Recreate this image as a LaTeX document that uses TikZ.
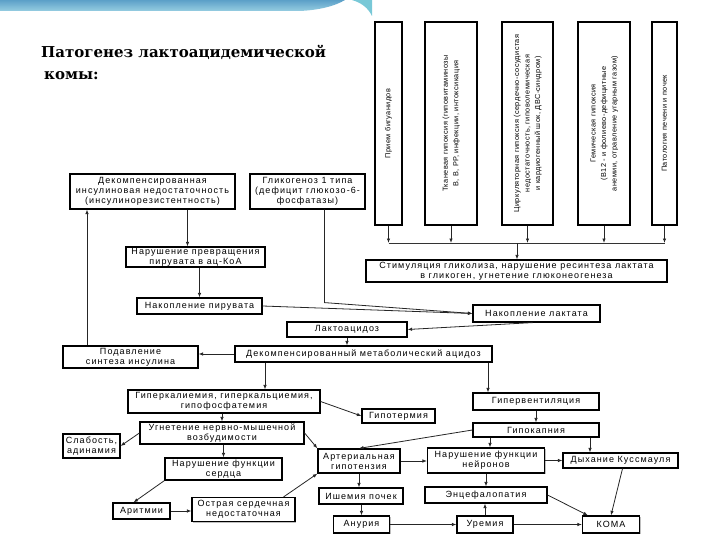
\documentclass[tikz,border=0pt]{standalone}
\usepackage{fontspec}
\usepackage{graphicx}
\setmainfont{Liberation Sans}
\newfontfamily\boxfont[LetterSpace=12]{Liberation Sans}
\newfontfamily\vfont[LetterSpace=6]{Liberation Sans}
\newfontfamily\titlefont{DejaVu Serif}
\usetikzlibrary{arrows.meta}
\usetikzlibrary{shadows}
\definecolor{bartop}{RGB}{92,160,200}
\definecolor{barbot}{RGB}{150,205,225}
\definecolor{barteal}{RGB}{120,200,215}

\begin{document}
\begin{tikzpicture}[x=1pt, y=-1pt,
    box/.style={draw, line width=1.2pt, fill=white, align=center, inner sep=1pt,
        font=\boxfont\fontsize{9}{10}\selectfont,
        drop shadow={shadow xshift=1.2pt, shadow yshift=-1.2pt, opacity=0.5}},
    vbox/.style={box, minimum height=203, font=\vfont\fontsize{7.3}{10.5}\selectfont},
    link/.style={line width=0.8pt, draw=black!85, -{Latex[length=4.5pt,width=3.5pt]}}
]
\useasboundingbox (0,0) rectangle (720,540);

% Slide band
\shade[top color=bartop, bottom color=barbot] (0,0) -- (345,0) .. controls (335,6) and (320,10) .. (300,11) -- (0,11) -- cycle;
\fill[barteal] (352,0) -- (372,0) -- (372,16) .. controls (368,8) and (362,3) .. (352,0) -- cycle;

% Title
\node[anchor=north west, align=left, inner sep=0pt, font=\titlefont\bfseries\fontsize{15}{22}\selectfont] (title) at (41,45)
    {Патогенез лактоацидемической\\\hspace{3pt}комы:};

% Causes
\node[vbox, minimum width=27] (t1) at (388.5,123.5) {\rotatebox{90}{Прием бигуанидов}};
\node[vbox, minimum width=52] (t2) at (451,123.5) {\rotatebox{90}{\begin{tabular}{@{}c@{}}Тканевая гипоксия (гиповитаминозы\\В, В, РР, инфекции, интоксикация\end{tabular}}};
\node[vbox, minimum width=51] (t3) at (527.5,123.5) {\rotatebox{90}{\begin{tabular}{@{}c@{}}Циркуляторная гипоксия (сердечно-сосудистая\\недостаточность, гиповолемическая\\и кардиогенный шок, ДВС-синдром)\end{tabular}}};
\node[vbox, minimum width=52] (t4) at (604,123.5) {\rotatebox{90}{\begin{tabular}{@{}c@{}}Гемическая гипоксия\\(В12 - и фолиево-дефицитные\\анемии, отравление угарным газом)\end{tabular}}};
\node[vbox, minimum width=25] (t5) at (664.5,123.5) {\rotatebox{90}{Патология печени и почек}};

% Define boxes
\node[box, minimum width=165, minimum height=35] (dins) at (152.5,191.5) {Декомпенсированная\\инсулиновая недостаточность\\(инсулинорезистентность)};
\node[box, minimum width=115, minimum height=35] (glyc) at (307.5,191.5) {Гликогеноз 1 типа\\(дефицит глюкозо-6-\\фосфатазы)};
\node[box, minimum width=139, minimum height=20] (npir) at (195.5,257) {Нарушение превращения\\пирувата в ац-КоА};
\node[box, minimum width=301, minimum height=22] (stim) at (516.5,271) {Стимуляция гликолиза, нарушение ресинтеза лактата\\в гликоген, угнетение глюконеогенеза};
\node[box, minimum width=125, minimum height=16] (pir) at (199.5,306) {Накопление пирувата};
\node[box, minimum width=127, minimum height=17] (lact) at (536.5,313.5) {Накопление лактата};
\node[box, minimum width=120, minimum height=15] (lacto) at (347,329.5) {Лактоацидоз};
\node[box, minimum width=257, minimum height=16] (acid) at (363.5,354) {Декомпенсированный метаболический ацидоз};
\node[box, minimum width=135, minimum height=22] (podav) at (130.5,357) {Подавление\\синтеза инсулина};
\node[box, minimum width=192, minimum height=23] (hyperk) at (224,401.5) {Гиперкалиемия, гиперкальциемия,\\гипофосфатемия};
\node[box, minimum width=73, minimum height=14] (hypoth) at (398.5,416) {Гипотермия};
\node[box, minimum width=164, minimum height=22] (ugn) at (222,433) {Угнетение нервно-мышечной\\возбудимости};
\node[box, minimum width=57, minimum height=24] (slab) at (91.5,446) {Слабость,\\адинамия};
\node[box, minimum width=117, minimum height=22] (nfs) at (223.5,469) {Нарушение функции\\сердца};
\node[box, minimum width=57, minimum height=16] (arit) at (141.5,511) {Аритмии};
\node[box, minimum width=103, minimum height=24] (ostr) at (243.5,509.5) {Острая сердечная\\недостаточная};
\node[box, minimum width=82, minimum height=24] (art) at (359,461) {Артериальная\\гипотензия};
\node[box, minimum width=117, minimum height=25] (neur) at (486,460.5) {Нарушение функции\\нейронов};
\node[box, minimum width=115, minimum height=15] (kuss) at (620.5,460.5) {Дыхание Куссмауля};
\node[box, minimum width=126, minimum height=17] (hypv) at (536,401.5) {Гипервентиляция};
\node[box, minimum width=126, minimum height=14] (hypok) at (536,430) {Гипокапния};
\node[box, minimum width=84, minimum height=16] (ishem) at (361,496) {Ишемия почек};
\node[box, minimum width=122, minimum height=16] (enc) at (486,495) {Энцефалопатия};
\node[box, minimum width=56, minimum height=17] (anur) at (361.5,524.5) {Анурия};
\node[box, minimum width=56, minimum height=17] (urem) at (485,524.5) {Уремия};
\node[box, minimum width=57, minimum height=17] (koma) at (611,524.5) {КОМА};

% Define arrows
\coordinate (bus) at (517,243);
\draw[line width=1pt, black!80] (t1.south |- bus) -- (t5.south |- bus);
\foreach \t in {t1,t2,t3,t4,t5}
    \draw[link] (\t.south) -- (\t.south |- bus);
\draw[link] (bus) -- (bus |- stim.north);

\draw[link] ([xshift=-8pt]npir.north |- dins.south) -- ([xshift=-8pt]npir.north);
\draw[link] (npir.south -| pir.north) -- (pir.north);
\draw[link] ([xshift=17pt]glyc.south) -- ++(0,93) -- (lact.west);
\draw[link] (pir.east) -- (lact.west);
\draw[link] ([xshift=-4pt]lact.south) -- (lacto.east);
\draw[link] (lacto.south) -- (lacto.south |- acid.north);
\draw[link] (acid.west) -- (acid.west -| podav.east);
\draw[link] ([xshift=-43.5pt]podav.north) -- ([xshift=-43.5pt]podav.north |- dins.south);
\draw[link] ([xshift=-98.5pt]acid.south) -- ([xshift=-98.5pt]acid.south |- hyperk.north);
\draw[link] ([xshift=124.5pt]acid.south) -- ([xshift=124.5pt]acid.south |- hypv.north);

\draw[link] (hyperk.east) -- (hypoth.west);
\draw[link] (hyperk.south -| ugn.north) -- (ugn.north);
\draw[link] (ugn.west) -- (slab.east);
\draw[link] (ugn.south -| nfs.north) -- (nfs.north);
\draw[link] (ugn.east) -- (art.north west);
\draw[link] (nfs.south west) -- ([xshift=-8pt]arit.north);
\draw[link] (arit.east) -- (arit.east -| ostr.west);
\draw[link] ([xshift=-12pt]ostr.north east) -- (art.south west);

\draw[link] (hypv.south) -- (hypok.north);
\draw[link] (hypok.west) -- (art.north);
\draw[link] ([xshift=-46pt]hypok.south) -- ([xshift=-46pt]hypok.south |- neur.north);
\draw[link] ([xshift=54pt]hypok.south) -- ([xshift=54pt]hypok.south |- kuss.north);
\draw[link] (art.east) -- (art.east -| neur.west);
\draw[link] (neur.east) -- (neur.east -| kuss.west);

\draw[link] (art.south) -- (art.south |- ishem.north);
\draw[link] (ishem.south -| anur.north) -- (anur.north);
\draw[link] (anur.east) -- (urem.west);
\draw[link] (urem.north) -- (urem.north |- enc.south);
\draw[link] (neur.south) -- (neur.south |- enc.north);
\draw[link] (urem.east) -- (koma.west);
\draw[link] (enc.east) -- ([xshift=6pt]koma.north west);
\draw[link] ([xshift=2pt]kuss.south) -- (koma.north);

\end{tikzpicture}
\end{document}
